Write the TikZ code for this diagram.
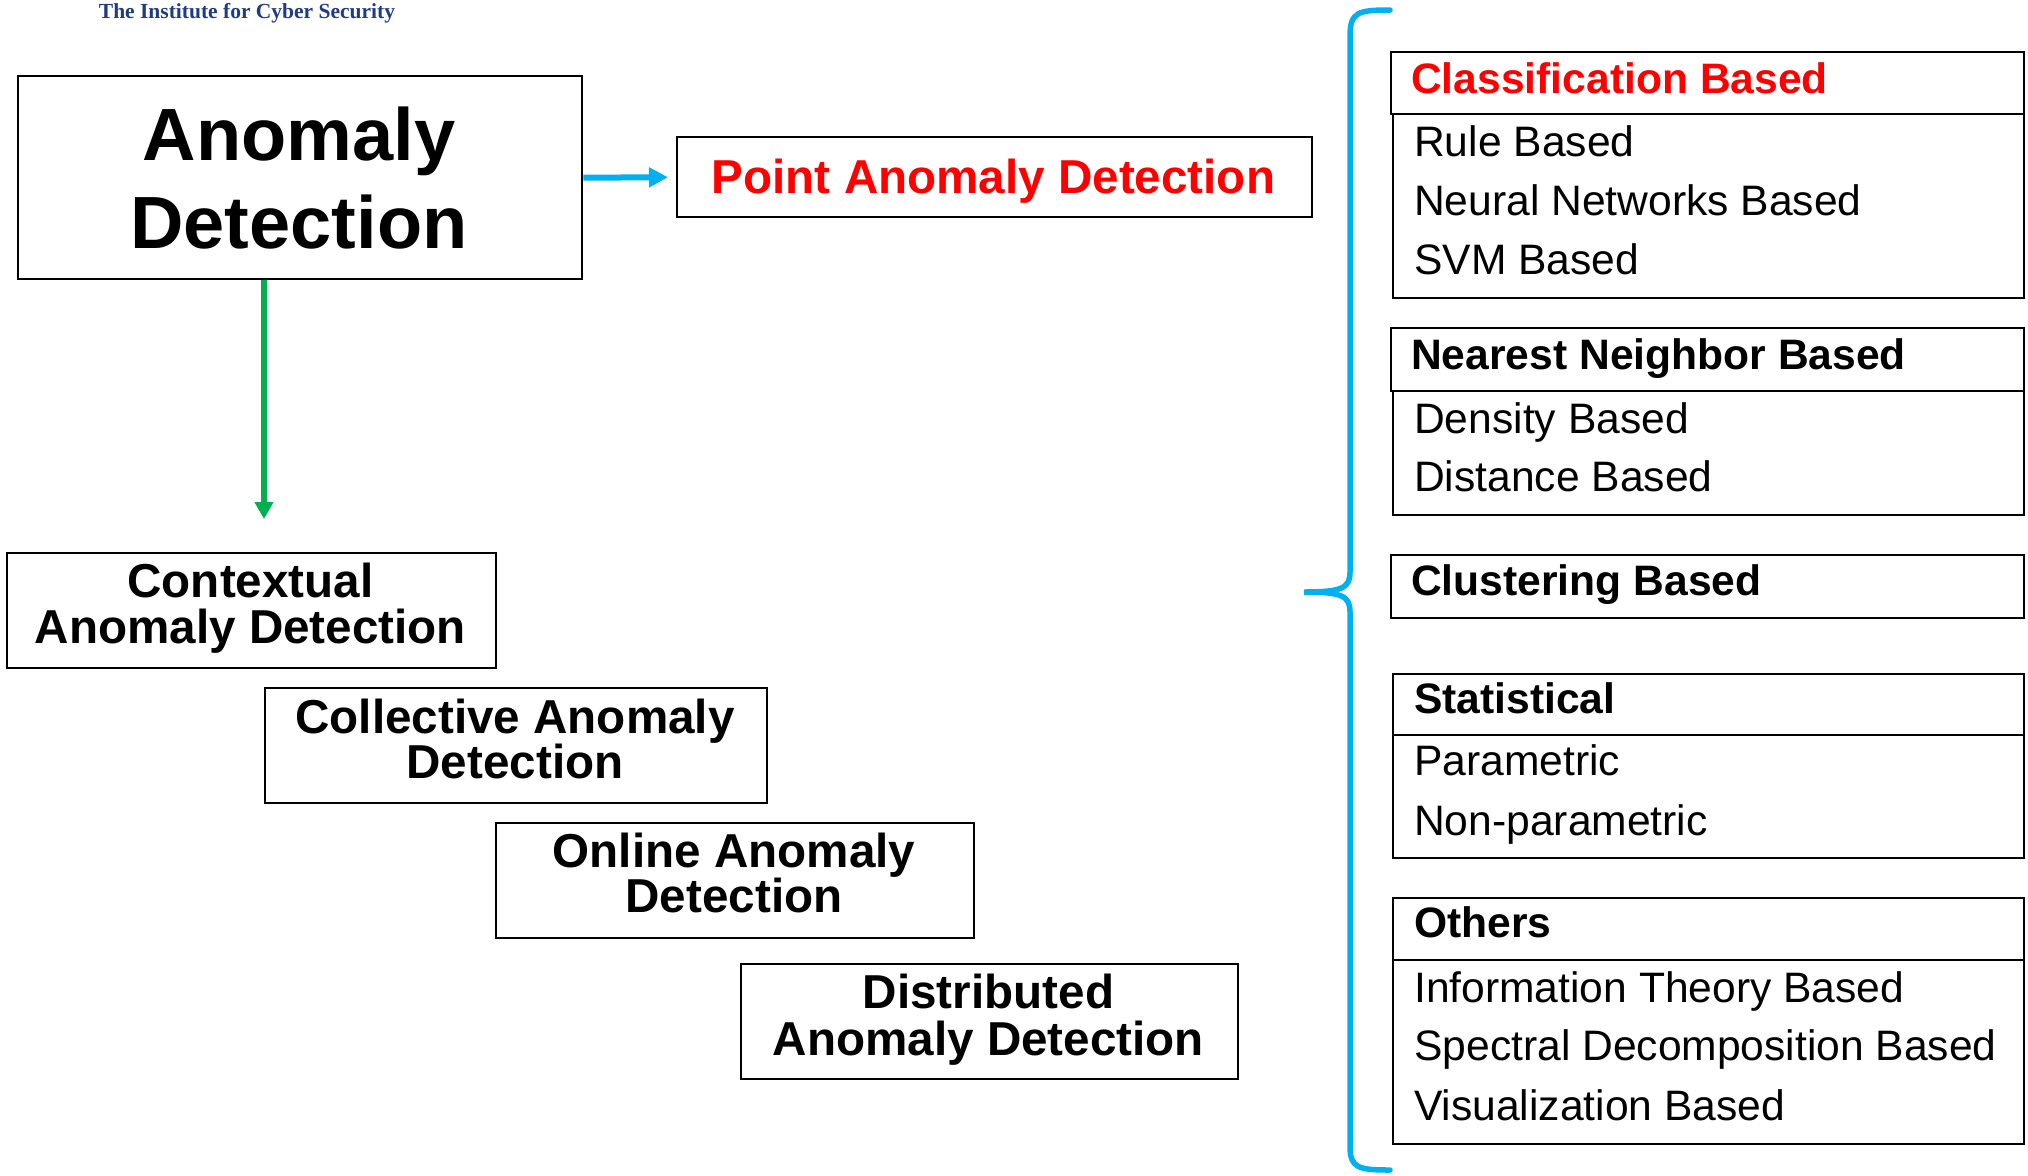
\documentclass[tikz,border=0pt]{standalone}
\usepackage{fontspec}
\setmainfont{Liberation Sans}
\newfontfamily\instfont{Liberation Serif}
\usetikzlibrary{arrows.meta}

\definecolor{skyblue}{HTML}{00B0F0}
\definecolor{leafgreen}{HTML}{00B050}
\definecolor{alertred}{HTML}{FF0000}
\definecolor{navy}{HTML}{1F3C82}

\begin{document}
\begin{tikzpicture}[x=1pt,y=-1pt,
  box/.style={draw=black, line width=2.4pt, rectangle, inner sep=0pt, anchor=north west},
  bigtxt/.style={anchor=base, inner sep=0pt, font=\fontsize{74}{88}\selectfont\bfseries},
  modetxt/.style={anchor=base, inner sep=0pt, font=\fontsize{47.6}{46}\selectfont\bfseries},
  headtxt/.style={anchor=base west, inner sep=0pt, font=\fontsize{42.6}{50}\selectfont\bfseries},
  itemtxt/.style={anchor=base west, inner sep=0pt, font=\fontsize{42.6}{50}\selectfont},
  flow/.style={line width=6pt, draw=skyblue, -{Triangle[length=19pt,width=19pt]}},
  down/.style={line width=5.5pt, draw=leafgreen, -{Triangle[length=17pt,width=18pt]}}
]
\useasboundingbox (0,0) rectangle (2028,1175);

% institute heading
\node[anchor=base, inner sep=0pt, text=navy, font=\instfont\fontsize{21.5}{24}\selectfont\bfseries]
  (inst) at (247,18) {The Institute for Cyber Security};

% root box
\node[box, minimum width=564pt, minimum height=203pt] (ad) at (17,75) {};
\node[bigtxt] (ad1) at (299,160) {Anomaly};
\node[bigtxt] (ad2) at (299,248) {Detection};

% point anomaly detection
\node[box, minimum width=635pt, minimum height=80pt] (pad) at (676,136) {};
\node[modetxt, text=alertred] (padt) at (993.5,193) {Point Anomaly Detection};

% cascade of other problem types
\node[box, minimum width=489pt, minimum height=115pt] (ctx) at (6,552) {};
\node[modetxt] (ctx1) at (250.5,597) {Contextual};
\node[modetxt] (ctx2) at (250.5,643) {Anomaly Detection};

\node[box, minimum width=502pt, minimum height=115pt] (col) at (264,687) {};
\node[modetxt] (col1) at (515,733) {Collective Anomaly};
\node[modetxt] (col2) at (515,778) {Detection};

\node[box, minimum width=478pt, minimum height=115pt] (onl) at (495,822) {};
\node[modetxt] (onl1) at (734,867) {Online Anomaly};
\node[modetxt] (onl2) at (734,912) {Detection};

\node[box, minimum width=497pt, minimum height=115pt] (dst) at (740,963) {};
\node[modetxt] (dst1) at (988.5,1008) {Distributed};
\node[modetxt] (dst2) at (988.5,1055) {Anomaly Detection};

% connectors
\draw[flow, shorten >=8pt] (ad.east) -- (pad.west);
\coordinate (gtip) at (264,519);
\draw[down] (ad.south -| gtip) -- (gtip);

% technique groups
\node[box, minimum width=633pt, minimum height=62pt] (clsh) at (1390,51) {};
\node[box, minimum width=631pt, minimum height=184pt] (clsb) at (1392,113) {};
\node[headtxt, text=alertred] (clst) at (1411,93) {Classification Based};
\node[itemtxt] (cls1) at (1414,156) {Rule Based};
\node[itemtxt] (cls2) at (1414,215) {Neural Networks Based};
\node[itemtxt] (cls3) at (1414,274) {SVM Based};

\node[box, minimum width=633pt, minimum height=63pt] (nnh) at (1390,327) {};
\node[box, minimum width=631pt, minimum height=124pt] (nnb) at (1392,390) {};
\node[headtxt] (nnt) at (1411,369) {Nearest Neighbor Based};
\node[itemtxt] (nn1) at (1414,433) {Density Based};
\node[itemtxt] (nn2) at (1414,491) {Distance Based};

\node[box, minimum width=633pt, minimum height=63pt] (clu) at (1390,554) {};
\node[headtxt] (clut) at (1411,595) {Clustering Based};

\node[box, minimum width=631pt, minimum height=61pt] (stah) at (1392,673) {};
\node[box, minimum width=631pt, minimum height=123pt] (stab) at (1392,734) {};
\node[headtxt] (stat) at (1414,713) {Statistical};
\node[itemtxt] (sta1) at (1414,775) {Parametric};
\node[itemtxt] (sta2) at (1414,835) {Non-parametric};

\node[box, minimum width=631pt, minimum height=62pt] (othh) at (1392,897) {};
\node[box, minimum width=631pt, minimum height=184pt] (othb) at (1392,959) {};
\node[headtxt] (otht) at (1414,937) {Others};
\node[itemtxt] (oth1) at (1414,1002) {Information Theory Based};
\node[itemtxt] (oth2) at (1414,1060) {Spectral Decomposition Based};
\node[itemtxt] (oth3) at (1414,1120) {Visualization Based};

% grouping brace
\draw[skyblue, line width=5.5pt, line cap=round]
  (1390,10) .. controls (1358,10) and (1350,12) .. (1350,36)
  -- (1350,572) .. controls (1350,588) and (1342,592) .. (1304,592)
  .. controls (1342,592) and (1350,596) .. (1350,612)
  -- (1350,1146) .. controls (1350,1168) and (1358,1170) .. (1390,1170);
\end{tikzpicture}
\end{document}
